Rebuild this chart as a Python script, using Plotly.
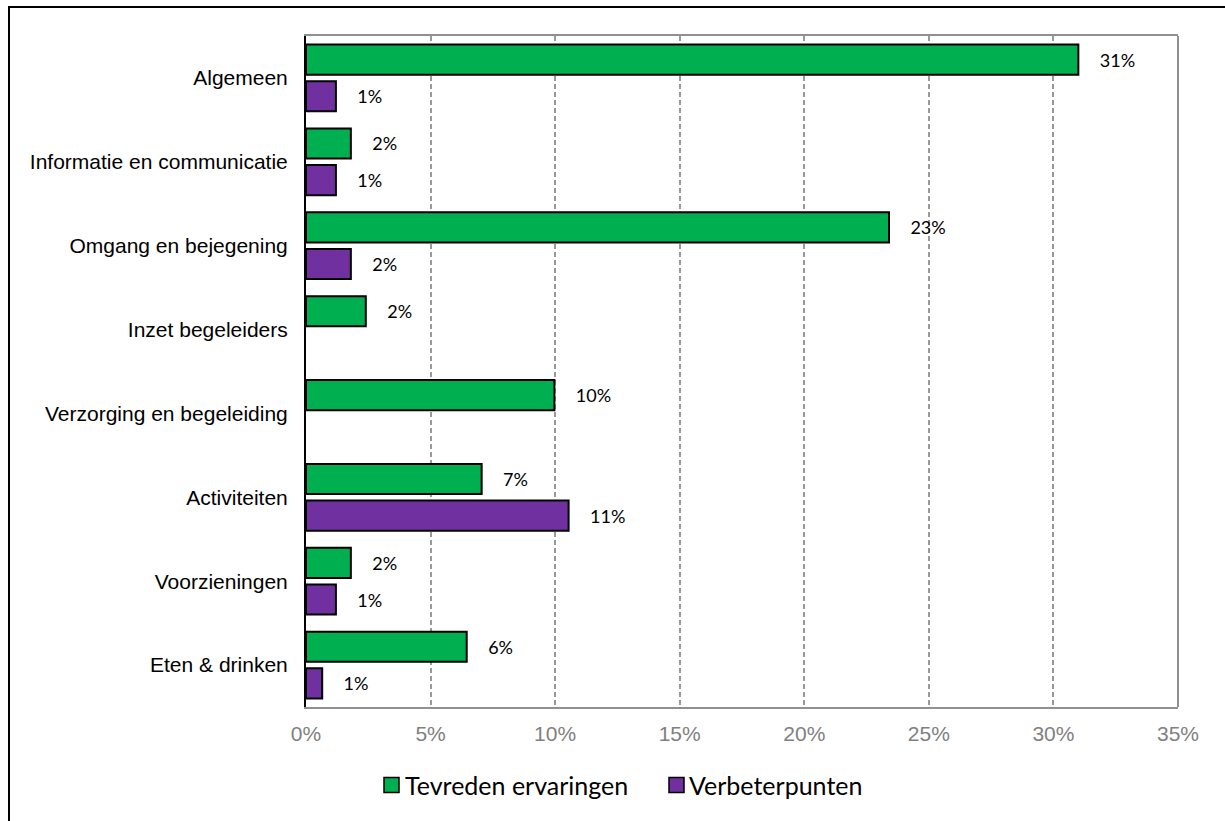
import plotly.graph_objects as go

categories = [
    "Algemeen",
    "Informatie en communicatie",
    "Omgang en bejegening",
    "Inzet begeleiders",
    "Verzorging en begeleiding",
    "Activiteiten",
    "Voorzieningen",
    "Eten & drinken",
]
tevreden = [0.310, 0.018, 0.234, 0.024, 0.0997, 0.0705, 0.018, 0.0645]
verbeter = [0.012, 0.012, 0.018, None, None, 0.1054, 0.012, 0.0065]

series_names = ["Tevreden ervaringen", "Verbeterpunten"]
series_colors = ["#00B050", "#7030A0"]
x_ticks = [0, 0.05, 0.10, 0.15, 0.20, 0.25, 0.30, 0.35]

label_font = dict(family="Lato, Carlito, sans-serif", size=18, color="#000000")
legend_font = dict(family="Lato, Carlito, sans-serif", size=25, color="#000000")
axis_font = "Liberation Sans, Arial, sans-serif"
gap = "\u00a0" * 4

fig = go.Figure()
for name, vals, color in zip(series_names, [tevreden, verbeter], series_colors):
    fig.add_trace(go.Bar(
        name=name,
        y=categories,
        x=vals,
        orientation="h",
        marker=dict(color=color, line=dict(color="#000000", width=2)),
        texttemplate=gap + "%{x:.0%}",
        textposition="outside",
        textfont=label_font,
        cliponaxis=False,
        hoverinfo="skip",
        showlegend=False,
    ))

W, H = 1225, 821
L, R, T, B = 306, 47, 36, 114
PW, PH = W - L - R, H - T - B


def px(xp):
    return (xp - L) / PW


def py(yp):
    return (H - B - yp) / PH


shapes = [
    # right edge of the plotting area
    dict(type="line", xref="paper", yref="paper", x0=1, x1=1, y0=0, y1=1,
         line=dict(color="#909090", width=2), layer="above"),
    # outer frame around the whole chart
    dict(type="rect", xref="paper", yref="paper",
         x0=px(9), x1=px(W + 20), y0=py(H + 20), y1=py(7),
         line=dict(color="#000000", width=2), fillcolor="rgba(0,0,0,0)",
         layer="above"),
]
annotations = []

# legend: colour swatch followed by the series name
legend_pos = [(384, 403), (669, 687)]
legend_cy = 785
for (sx, tx), name, color in zip(legend_pos, series_names, series_colors):
    shapes.append(dict(
        type="rect", xref="paper", yref="paper",
        x0=px(sx), x1=px(sx + 15), y0=py(legend_cy + 7.5), y1=py(legend_cy - 7.5),
        fillcolor=color, line=dict(color="#000000", width=1.5), layer="above",
    ))
    annotations.append(dict(
        text=name, xref="paper", yref="paper", x=px(tx), y=py(legend_cy),
        xanchor="left", yanchor="middle", showarrow=False, font=legend_font,
    ))

fig.update_layout(
    width=W, height=H,
    margin=dict(l=L, r=R, t=T, b=B, pad=0),
    paper_bgcolor="#ffffff",
    plot_bgcolor="#ffffff",
    barmode="group",
    bargap=0.125,
    bargroupgap=0.18,
    showlegend=False,
    xaxis=dict(
        range=[0, 0.35],
        tickvals=x_ticks,
        tickformat=".0%",
        tickfont=dict(family=axis_font, size=21, color="#808080"),
        showgrid=True,
        gridcolor="#999999",
        griddash="5px,3px",
        gridwidth=1.5,
        showline=True,
        linecolor="#909090",
        linewidth=2,
        mirror=True,
        zeroline=False,
        ticks="",
        ticklabelstandoff=7,
    ),
    yaxis=dict(
        autorange="reversed",
        tickfont=dict(family=axis_font, size=21, color="#000000"),
        showgrid=False,
        showline=True,
        linecolor="#000000",
        linewidth=2,
        zeroline=False,
        ticks="",
        ticklabelstandoff=12,
    ),
    shapes=shapes,
    annotations=annotations,
)

fig.write_html("out.html")
